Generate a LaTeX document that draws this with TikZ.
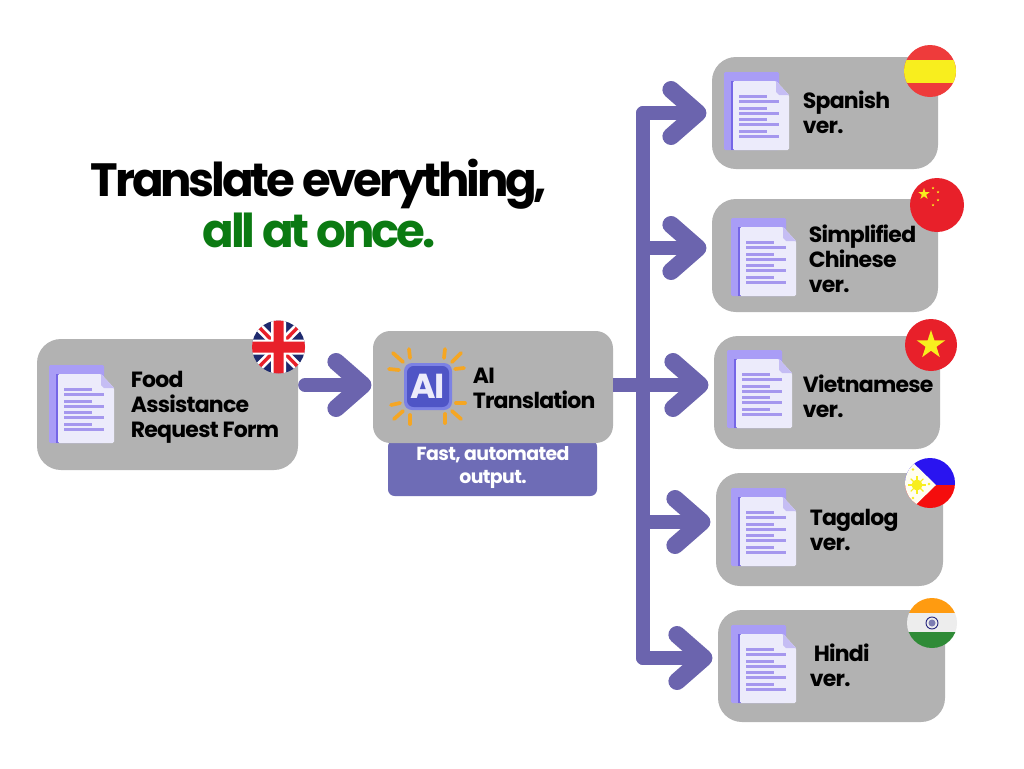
\documentclass[tikz,border=0pt]{standalone}
\usepackage{fontspec}
\setmainfont{Poppins}[LetterSpace=-3.4]
\newfontfamily\titlefont{Poppins}[LetterSpace=-6.8]
\usetikzlibrary{arrows.meta}
\definecolor{boxgray}{HTML}{B2B2B2}
\definecolor{flowpurple}{HTML}{6B64AE}
\definecolor{capfill}{HTML}{6E6CB6}
\definecolor{backdoc}{HTML}{A99DF6}
\definecolor{docstrip}{HTML}{7566E6}
\definecolor{docfront}{HTML}{ECEBFB}
\definecolor{docline}{HTML}{A597EE}
\definecolor{titlegreen}{HTML}{0B7A12}
\definecolor{raycol}{HTML}{F5A623}
\definecolor{airim}{HTML}{7C82E4}
\definecolor{aiface}{HTML}{4F55C6}
\definecolor{ukblue}{HTML}{1E2A6E}
\definecolor{flagred}{HTML}{E8202A}
\definecolor{esred}{HTML}{EE3B3B}
\definecolor{flagyellow}{HTML}{F8EE1E}
\definecolor{phblue}{HTML}{2A14F0}
\definecolor{phred}{HTML}{F50D0D}
\definecolor{inorange}{HTML}{FF9B10}
\definecolor{ingreen}{HTML}{2F8B37}
\definecolor{innavy}{HTML}{27277F}
\newcommand{\fstar}[4]{\fill[#4] (#1,#2) +(-90:#3) -- +(54:#3) -- +(198:#3) -- +(342:#3) -- +(486:#3) -- cycle;}
\tikzset{
  x=0.75pt,y=-0.75pt,
  card/.style={fill=boxgray,rounded corners=18pt,inner sep=0pt},
  cardtext/.style={anchor=base west,align=left,inner sep=0pt,text=black,font=\fontsize{16.5pt}{18.7pt}\selectfont\bfseries},
  flow/.style={draw=flowpurple,line width=10.25pt,line cap=round,line join=round},
  flowarrow/.style={flow,shorten >=4pt,-{Straight Barb[round,length=20pt,width=35pt,line width=13pt]}},
  ray/.style={draw=raycol,line width=2.8pt,line cap=round},
  docicon/.pic={
    \fill[backdoc,rounded corners=1pt] (0,0) rectangle (55,78);
    \fill[docstrip] (7,9) rectangle (10,78);
    \fill[docfront,rounded corners=1pt] (9,9) -- (52,9) -- (65,23) -- (65,78) -- (9,78) -- cycle;
    \fill[docline!55!docfront] (52,9) -- (52,20) -- (55,23) -- (65,23) -- cycle;
    \foreach \ya/\xb in {24/43,29/55,36/43,41/55,47/43,52/55,59/43,64/55}
      \fill[docline] (15,\ya-1.5) rectangle (\xb,\ya+1.5);
  }
}
\begin{document}
\begin{tikzpicture}
\useasboundingbox (0,0) rectangle (1024,768);
\fill[white] (0,0) rectangle (1024,768);

% caption under AI card
\node[fill=capfill,rounded corners=5pt,minimum width=156.75pt,minimum height=42pt,inner sep=0pt] (cap) at (492.5,468) {};
% cards
\node[card,minimum width=195.75pt,minimum height=98.25pt] (src) at (167.5,404.5) {};
\node[card,rounded corners=13pt,minimum width=180pt,minimum height=84pt] (ai) at (493,387) {};
\node[card,minimum width=169.5pt,minimum height=84pt] (es) at (825,113) {};
\node[card,minimum width=169.5pt,minimum height=84.75pt] (zh) at (825,255.5) {};
\node[card,minimum width=169.5pt,minimum height=84.75pt] (vi) at (827,392.5) {};
\node[card,minimum width=170.25pt,minimum height=84.75pt] (tl) at (829.5,529.5) {};
\node[card,minimum width=170.25pt,minimum height=84pt] (hi) at (831.5,666) {};

% connectors
\coordinate (s0) at (305,385);
\coordinate (t1) at (643,113);
\coordinate (t2) at (643,248);
\coordinate (t3) at (643,385);
\coordinate (t4) at (643,522);
\coordinate (t5) at (643,658);
\draw[flowarrow,shorten >=1pt] (s0) -- (s0 -| ai.west);
\draw[flow] (t1) -- (t5);
\draw[flow,line cap=butt] (ai.east |- t3) -- (t3);
\draw[flowarrow] (t1) -- (t1 -| es.west);
\draw[flowarrow] (t2) -- (t2 -| zh.west);
\draw[flowarrow] (t3) -- (t3 -| vi.west);
\draw[flowarrow] (t4) -- (t4 -| tl.west);
\draw[flowarrow] (t5) -- (t5 -| hi.west);

% document icons
\pic at (49,365) {docicon};
\pic at (724,72) {docicon};
\pic at (731,218) {docicon};
\pic at (727,350) {docicon};
\pic at (731,488) {docicon};
\pic at (731,625) {docicon};

% AI icon
\fill[airim,rounded corners=6pt] (404,363) rectangle (452,410);
\fill[aiface,rounded corners=5pt] (407,366) rectangle (449,407);
\node[inner sep=0pt,text=docfront,font=\fontsize{26pt}{26pt}\selectfont\bfseries] (ailogo) at (427.5,386.5) {AI};
\draw[ray] (393,353) -- (403,362);
\draw[ray] (409,349) -- (410,358);
\draw[ray] (389,369) -- (399,370);
\draw[ray] (445,349) -- (444,358);
\draw[ray] (461,353) -- (452,362);
\draw[ray] (455,369) -- (464,368);
\draw[ray] (391,405) -- (400,403);
\draw[ray] (394,419) -- (403,411);
\draw[ray] (410,415) -- (410,424);
\draw[ray] (456,403) -- (465,403);
\draw[ray] (452,411) -- (461,419);
\draw[ray] (445,414) -- (445,423);

% flags
\begin{scope}
\clip (278.5,347) circle (26.5);
\fill[ukblue] (250,318) rectangle (307,376);
\draw[white,line width=6.5pt] (250,318) -- (307,376) (250,376) -- (307,318);
\draw[flagred,line width=2.6pt] (250,318) -- (307,376) (250,376) -- (307,318);
\fill[white] (271,318) rectangle (286,376) (250,339.5) rectangle (307,354.5);
\fill[flagred] (273.5,318) rectangle (283.5,376) (250,341.5) rectangle (307,352.5);
\end{scope}
\begin{scope}
\clip (930,71) circle (26);
\fill[esred] (900,40) rectangle (960,100);
\fill[flagyellow] (900,60) rectangle (960,83);
\end{scope}
\fill[flagred] (937,205) circle (27);
\fstar{924}{194}{6}{flagyellow}
\fstar{933}{188}{1.5}{flagyellow}
\fstar{938}{192}{1.5}{flagyellow}
\fstar{938}{200}{1.5}{flagyellow}
\fstar{933}{205}{1.5}{flagyellow}
\fill[flagred] (931,345) circle (26);
\fstar{931}{345}{15}{flagyellow}
\begin{scope}
\clip (930,483) circle (25);
\fill[phblue] (900,455) rectangle (960,485);
\fill[phred] (900,485) rectangle (960,510);
\fill[white!95!yellow] (900,450) -- (936,485) -- (900,520) -- cycle;
\fill[flagyellow] (917,485) circle (5.5);
\foreach \a in {0,45,...,315}
  \draw[flagyellow,line width=0.8pt] (917,485) -- +(\a:9);
\fill[flagyellow] (913,469.5) circle (1.3) (913,498) circle (1.3) (929,484) circle (1.3);
\end{scope}
\begin{scope}
\clip (932,623) circle (25);
\fill[inorange] (900,595) rectangle (960,613);
\fill[white!93!black] (900,613) rectangle (960,632);
\fill[ingreen] (900,632) rectangle (960,650);
\draw[innavy,line width=0.7pt] (932,623) circle (6);
\fill[innavy!60!white] (932,623) circle (3.5);
\end{scope}

% labels
\node[anchor=base,inner sep=0pt,font=\titlefont\fontsize{35pt}{35pt}\selectfont\bfseries] (title1) at (319,196) {Translate everything,};
\node[anchor=base,inner sep=0pt,text=titlegreen,font=\titlefont\fontsize{35pt}{35pt}\selectfont\bfseries] (title2) at (319,247) {all at once.};
\node[cardtext] (lsrc) at (130.5,437) {Food\\Assistance\\Request Form};
\node[cardtext] (lai) at (472.5,408) {AI\\Translation};
\node[anchor=base,align=center,inner sep=0pt,text=white,font=\fontsize{14.2pt}{17pt}\selectfont\bfseries] (lcap) at (493,483) {Fast, automated\\output.};
\node[cardtext] (les) at (802.5,133) {Spanish\\ver.};
\node[cardtext] (lzh) at (808.5,292) {Simplified\\Chinese\\ver.};
\node[cardtext] (lvi) at (802.5,417) {Vietnamese\\ver.};
\node[cardtext] (ltl) at (809.5,550) {Tagalog\\ver.};
\node[cardtext] (lhi) at (809.5,686) {\hspace*{3pt}Hindi\\ver.};
\end{tikzpicture}
\end{document}
